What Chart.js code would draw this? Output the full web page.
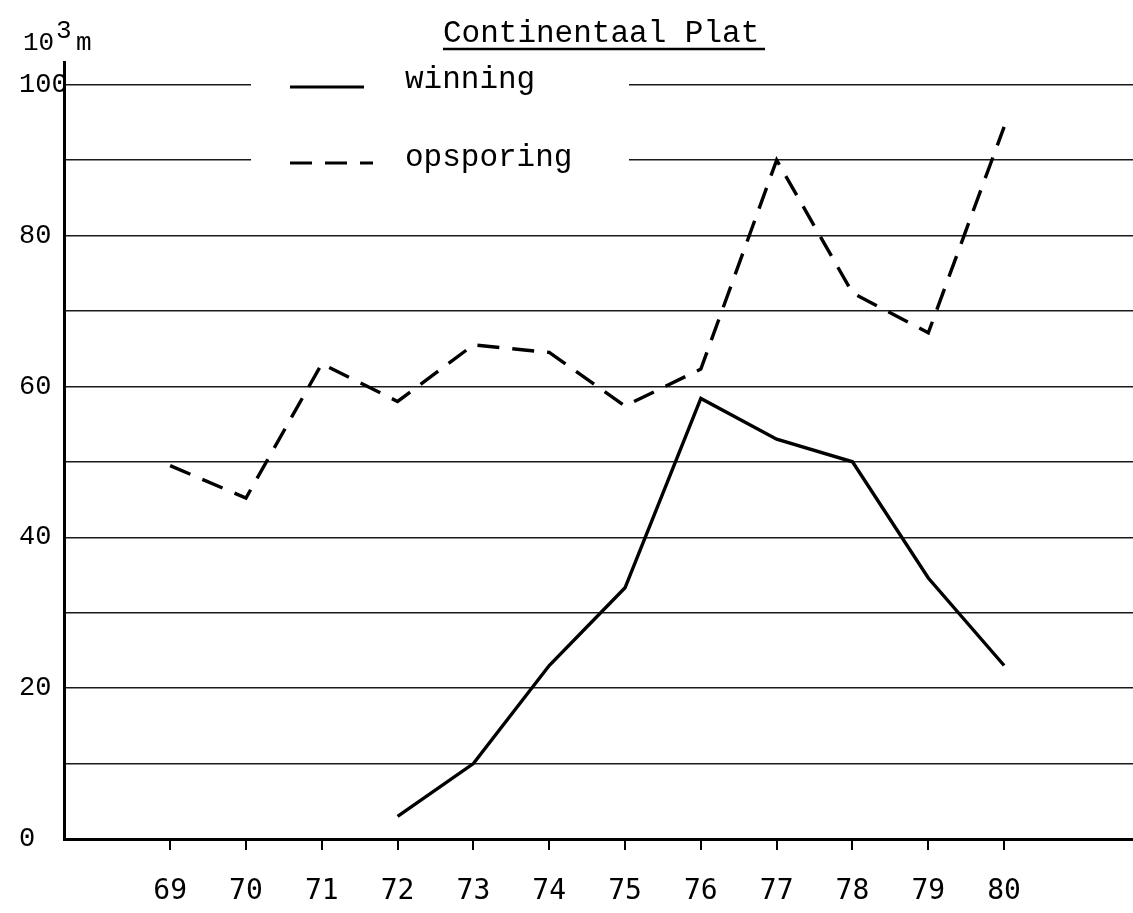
<!DOCTYPE html>
<html>
<head>
<meta charset="utf-8">
<script src="https://cdn.jsdelivr.net/npm/chart.js@4.4.1/dist/chart.umd.min.js"></script>
<style>
  html, body { margin: 0; padding: 0; background: #fff; }
  #wrap { width: 1133px; height: 913px; }
</style>
</head>
<body>
<div id="wrap"><canvas id="chart" width="1133" height="913"></canvas></div>
<script>
// years on the x axis (19xx)
var years = [69, 70, 71, 72, 73, 74, 75, 76, 77, 78, 79, 80];
// production drilling (10^3 m), starts in 72
var winning = [null, null, null, 3, 10, 23, 33.3, 58.4, 53, 50, 34.6, 23];
// exploration drilling (10^3 m)
var opsporing = [49.5, 45.2, 63, 58, 65.5, 64.5, 57.4, 62.3, 90, 72.4, 67.1, 94.4];
// y gridlines every 10, labels every 20
var yTicks = [0, 10, 20, 30, 40, 50, 60, 70, 80, 90, 100];

var mono = 'Liberation Mono, Courier New, monospace';

//turn the arrays into x/y points, leave out the missing years
function points(values) {
  var out = [];
  for (var i = 0; i < years.length; i++) {
    if (values[i] !== null) out.push({ x: years[i], y: values[i] });
  }
  return out;
}

//title, unit and the legend are drawn by hand like on the original sheet
var paperText = {
  id: 'paperText',
  afterDraw: function (chart) {
    var c = chart.ctx;
    c.save();
    c.strokeStyle = '#000';

    //legend sits on the 100 and 90 gridlines, so blank them out there
    c.fillStyle = '#fff';
    c.fillRect(251, 76, 378, 100);
    c.fillStyle = '#000';

    c.font = '31px ' + mono;
    c.textBaseline = 'alphabetic';
    c.textAlign = 'left';
    c.fillText('Continentaal Plat', 443, 42);
    c.lineWidth = 2.5;
    c.beginPath();
    c.moveTo(443, 49);
    c.lineTo(765, 49);
    c.stroke();

    c.fillText('winning', 405, 88);
    c.fillText('opsporing', 405, 166);

    c.lineWidth = 3.2;
    c.beginPath();
    c.moveTo(290, 87);
    c.lineTo(364, 87);
    c.stroke();
    c.setLineDash([22, 13]);
    c.beginPath();
    c.moveTo(290, 163);
    c.lineTo(373, 163);
    c.stroke();
    c.setLineDash([]);

    //unit 10^3 m
    c.font = '26px ' + mono;
    c.fillText('10', 23, 50);
    c.fillText('3', 56, 38);
    c.fillText('m', 76, 50);
    c.restore();
  }
};

new Chart(document.getElementById('chart'), {
  type: 'line',
  data: {
    datasets: [
      {
        label: 'winning',
        data: points(winning),
        borderColor: '#000',
        borderWidth: 3.4,
        pointRadius: 0,
        tension: 0
      },
      {
        label: 'opsporing',
        data: points(opsporing),
        borderColor: '#000',
        borderWidth: 3.4,
        borderDash: [22, 13],
        pointRadius: 0,
        tension: 0
      }
    ]
  },
  options: {
    responsive: false,
    animation: false,
    layout: { padding: { left: 19, top: 62, right: 0, bottom: 0 } },
    plugins: {
      legend: { display: false },
      tooltip: { enabled: false }
    },
    scales: {
      x: {
        type: 'linear',
        min: 67.6,
        max: 81.7,
        afterBuildTicks: function (scale) {
          scale.ticks = years.map(function (v) { return { value: v }; });
        },
        afterFit: function (scale) { scale.height = 74; },
        ticks: {
          autoSkip: false,
          maxRotation: 0,
          padding: 25,
          color: '#000',
          font: { family: 'DejaVu Sans Mono', size: 28 },
          callback: function (v) { return String(v); }
        },
        grid: {
          drawOnChartArea: false,
          drawTicks: true,
          tickLength: 11,
          color: '#000',
          lineWidth: 2
        },
        border: { display: true, color: '#000', width: 3 }
      },
      y: {
        type: 'linear',
        min: 0,
        max: 103,
        afterBuildTicks: function (scale) {
          scale.ticks = yTicks.map(function (v) { return { value: v }; });
        },
        afterFit: function (scale) { scale.width = 45; },
        ticks: {
          crossAlign: 'far',
          color: '#000',
          font: { family: mono, size: 27 },
          callback: function (v) { return v % 20 === 0 ? String(v) : ''; }
        },
        grid: {
          drawTicks: false,
          color: '#1a1a1a',
          lineWidth: 1.4
        },
        border: { display: true, color: '#000', width: 3 }
      }
    }
  },
  plugins: [paperText]
});
</script>
</body>
</html>
